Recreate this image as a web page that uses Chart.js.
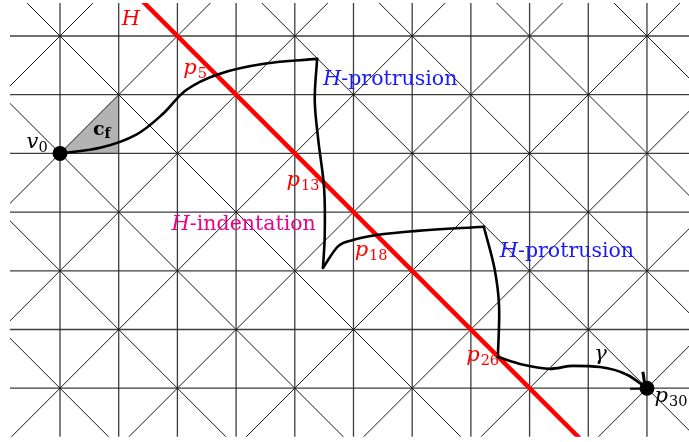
<!DOCTYPE html>
<html>
<head>
<meta charset="utf-8">
<script src="https://cdn.jsdelivr.net/npm/chart.js@4.4.0/dist/chart.umd.min.js"></script>
<style>
html,body{margin:0;padding:0;background:#fff;}
#wrap{width:689px;height:442px;position:relative;}
</style>
</head>
<body>
<div id="wrap"><canvas id="c"></canvas></div>
<script>
// ---- data (grid units: x to the right, y downward) ----
const gridCols = [0,1,2,3,4,5,6,7,8,9,10];
const gridRows = [0,1,2,3,4,5,6];
const diagDownOffsets = [-8,-6,-4,-2,0,2,4,6,8,10,12];   // lines x - y = k
const diagUpOffsets = [-2,0,2,4,6,8,10,12,14,16,18];      // lines x + y = k
const lineH = [[1,-1],[9,7]];                              // hyperplane H
const cellF = [[0,2],[1,1],[1,2],[0,2]];                   // shaded cell c_f
const gammaSeg1 = [[0,2],[0.7,1.9],[1.3,1.68],[1.75,1.33],[2.15,0.92],[2.7,0.65],[3.5,0.47],[4.38,0.39]];
const gammaSeg2 = [[4.38,0.39],[4.34,1.1],[4.40,1.77],[4.50,2.6],[4.51,3.4],[4.48,3.95]];
const gammaSeg3 = [[4.48,3.95],[4.74,3.58],[4.99,3.475],[5.40,3.39],[6.08,3.32],[7.22,3.25]];
const gammaSeg4 = [[7.22,3.25],[7.40,3.95],[7.48,4.6],[7.46,5.47]];
const gammaSeg5 = [[7.46,5.47],[7.89,5.60],[8.35,5.67],[8.74,5.62],[9.20,5.64],[9.66,5.77],[10,6]];
const endpoints = [[0,2],[10,6]];
const tickMarkA = [[9.93,5.72],[9.96,5.92]];
const tickMarkB = [[9.71,6.01],[9.92,6.01]];

// ---- labels (anchor in grid units: left, baseline) ----
const labels = [
  {parts:[['H','i']], at:[1.05,-0.19], color:'#ff0000'},
  {parts:[['p','i'],['5','s']], at:[2.1,0.64], color:'#ff0000'},
  {parts:[['p','i'],['13','s']], at:[3.86,2.56], color:'#ff0000'},
  {parts:[['p','i'],['18','s']], at:[5.02,3.75], color:'#ff0000'},
  {parts:[['p','i'],['26','s']], at:[6.92,5.54], color:'#ff0000'},
  {parts:[['p','i'],['30','s']], at:[10.13,6.24], color:'#000'},
  {parts:[['v','i'],['0','s']], at:[-0.57,1.9], color:'#000'},
  {parts:[['c','b'],['f','bs']], at:[0.56,1.69], color:'#000'},
  {parts:[['γ','i']], at:[9.1,5.52], color:'#000'},
  {parts:[['H','i'],['-protrusion','r']], at:[4.48,0.835], color:'#1a1aff'},
  {parts:[['H','i'],['-indentation','r']], at:[1.90,3.30], color:'rgb(236,0,140)'},
  {parts:[['H','i'],['-protrusion','r']], at:[7.49,3.765], color:'#1a1aff'}
];

const pts = a => a.map(p => ({x:p[0], y:p[1]}));
function segs(offsets, up){
  const out = [];
  offsets.forEach(k => {
    if (up){ out.push({x:k+1,y:-1},{x:k-8,y:8}); }
    else   { out.push({x:k-1,y:-1},{x:k+8,y:8}); }
    out.push({x:NaN,y:NaN});
  });
  return out;
}
const vLines = [];
gridCols.forEach(c => { vLines.push({x:c,y:-1},{x:c,y:8},{x:NaN,y:NaN}); });
const hLines = [];
gridRows.forEach(r => { hLines.push({x:-2,y:r},{x:12,y:r},{x:NaN,y:NaN}); });

const lineDs = (data, color, width, order, extra) => Object.assign({
  data, showLine:true, borderColor:color, borderWidth:width, pointRadius:0,
  fill:false, spanGaps:false, tension:0, order
}, extra||{});

const smoothX = {cubicInterpolationMode:'monotone', borderCapStyle:'round', borderJoinStyle:'round'};
const smoothT = {tension:0.35, borderCapStyle:'round', borderJoinStyle:'round'};

const labelPlugin = {
  id:'labels',
  afterDatasetsDraw(chart){
    const ctx = chart.ctx, xs = chart.scales.x, ys = chart.scales.y;
    const fam = '"DejaVu Serif", "Liberation Serif", serif';
    ctx.save();
    ctx.textBaseline = 'alphabetic';
    labels.forEach(l => {
      let x = xs.getPixelForValue(l.at[0]);
      const y = ys.getPixelForValue(l.at[1]);
      ctx.fillStyle = l.color;
      l.parts.forEach(([t, s]) => {
        let font, dy = 0;
        if (s === 'i') font = 'italic 21px ' + fam;
        else if (s === 'r') font = '20.5px ' + fam;
        else if (s === 's') { font = '14.5px ' + fam; dy = 4; }
        else if (s === 'b') font = 'bold 19px ' + fam;
        else if (s === 'bs') { font = 'bold 14px ' + fam; dy = 3; }
        ctx.font = font;
        ctx.fillText(t, x, y + dy);
        x += ctx.measureText(t).width + (s === 'i' && t === 'p' ? 1 : 0);
      });
    });
    ctx.restore();
  }
};

const cellPlugin = {
  id:'cell',
  beforeDatasetsDraw(chart){
    const ctx = chart.ctx, xs = chart.scales.x, ys = chart.scales.y;
    ctx.save();
    ctx.fillStyle = '#b3b3b3';
    ctx.beginPath();
    cellF.forEach((p,i) => {
      const px = xs.getPixelForValue(p[0]), py = ys.getPixelForValue(p[1]);
      if (i === 0) ctx.moveTo(px, py); else ctx.lineTo(px, py);
    });
    ctx.closePath();
    ctx.fill();
    ctx.restore();
  }
};

new Chart(document.getElementById('c'), {
  type:'scatter',
  data:{datasets:[
    lineDs(vLines, 'rgba(40,40,40,0.9)', 1.3, 9),
    lineDs(hLines, 'rgba(40,40,40,0.9)', 1.3, 9),
    lineDs(segs(diagDownOffsets,false), '#1a1a1a', 1, 8),
    lineDs(segs(diagUpOffsets,true), '#1a1a1a', 1, 8),
    lineDs(pts(lineH), '#ff0000', 4.5, 6),
    lineDs(pts(gammaSeg1), '#000', 2.6, 5, smoothT),
    lineDs(pts(gammaSeg2), '#000', 2.6, 5, smoothT),
    lineDs(pts(gammaSeg3), '#000', 2.6, 5, smoothX),
    lineDs(pts(gammaSeg4), '#000', 2.6, 5, smoothT),
    lineDs(pts(gammaSeg5), '#000', 2.6, 5, smoothX),
    lineDs(pts(tickMarkA), '#000', 3, 4),
    lineDs(pts(tickMarkB), '#000', 2, 4),
    {data:pts(endpoints), showLine:false, pointRadius:7.5, pointBackgroundColor:'#000', pointBorderWidth:0, order:1, clip:false}
  ]},
  options:{
    responsive:true, maintainAspectRatio:false, animation:false,
    layout:{autoPadding:false, padding:{left:10, top:3, right:0, bottom:5.3}},
    plugins:{legend:{display:false}, tooltip:{enabled:false}},
    events:[],
    scales:{
      x:{type:'linear', min:-0.852, max:10.716, display:false},
      y:{type:'linear', reverse:true, min:-0.562, max:6.826, display:false}
    }
  },
  plugins:[cellPlugin, labelPlugin]
});
</script>
</body>
</html>
